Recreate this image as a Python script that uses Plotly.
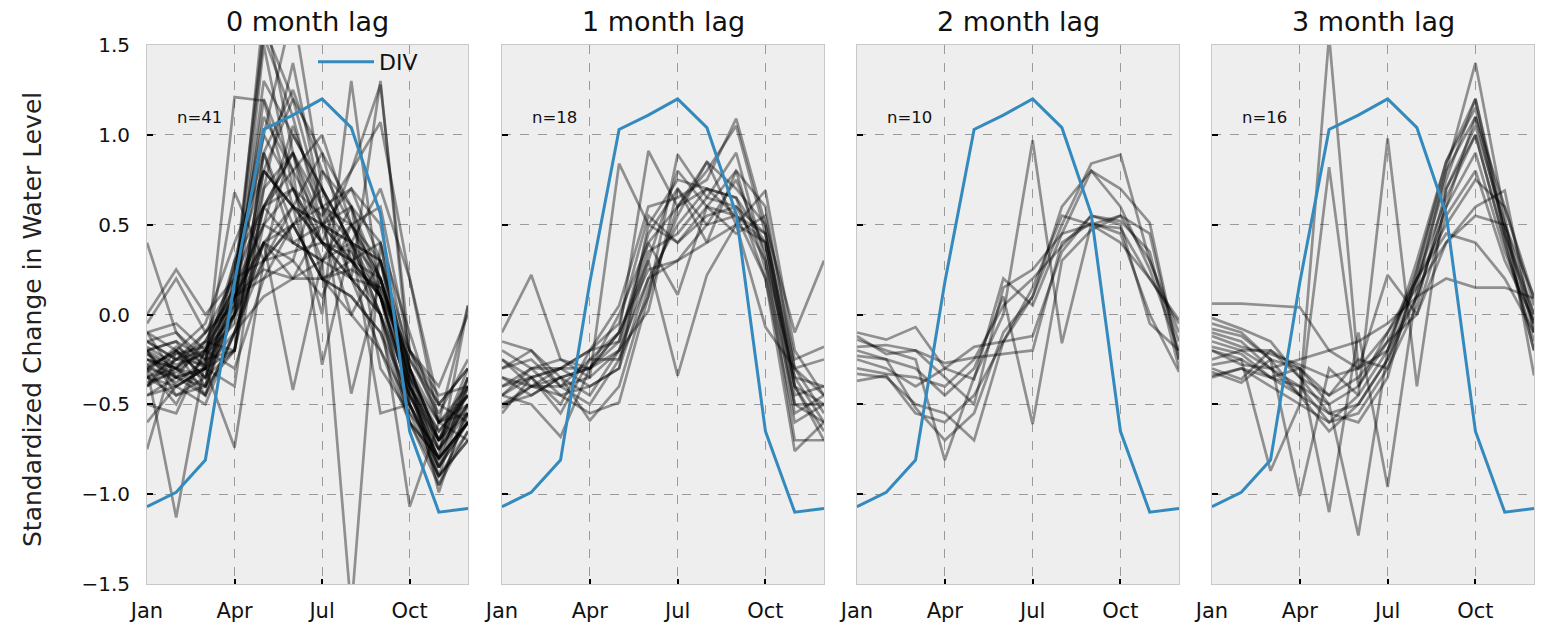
import plotly.graph_objects as go
from plotly.subplots import make_subplots

# ---------------- data ----------------
months = [1, 2, 3, 4, 5, 6, 7, 8, 9, 10, 11, 12]
month_tick_vals = [1, 4, 7, 10]
month_tick_text = ["Jan", "Apr", "Jul", "Oct"]
y_tick_vals = [-1.5, -1.0, -0.5, 0.0, 0.5, 1.0, 1.5]
y_tick_text = ["\u22121.5", "\u22121.0", "\u22120.5", "0.0", "0.5", "1.0", "1.5"]

panel_titles = ["0 month lag", "1 month lag", "2 month lag", "3 month lag"]
panel_counts = ["n=41", "n=18", "n=10", "n=16"]

div = [-1.07, -0.99, -0.81, 0.18, 1.03, 1.11, 1.20, 1.04, 0.56, -0.65, -1.10, -1.08]

lag0 = [
    [-0.25, -0.30, -0.20, 0.10, 1.70, 0.90, 0.50, 0.30, 0.10, -0.40, -0.75, -0.50],
    [-0.30, -0.20, -0.35, 0.20, 1.60, 1.20, 0.60, 0.40, 0.00, -0.50, -0.80, -0.60],
    [-0.15, -0.25, -0.10, 0.05, 1.00, 1.70, 0.70, 0.20, 0.15, -0.35, -0.90, -0.40],
    [-0.35, -0.40, -0.30, 1.21, 1.19, 0.60, 0.40, 0.30, 0.20, -0.30, -0.60, -0.45],
    [-0.20, -0.15, -0.25, 0.68, 0.30, 0.50, 0.20, 0.10, -0.10, -0.45, -0.70, -0.55],
    [0.40, -0.10, -0.30, -0.20, 0.80, 0.60, 0.00, 1.30, 0.10, -0.40, -0.85, -0.35],
    [-0.10, -0.05, -0.20, 0.00, 0.60, 0.40, 0.30, 0.20, 1.30, -0.30, -0.70, -0.40],
    [-0.20, -0.30, -0.15, 0.15, 0.50, 0.70, 0.40, 0.80, 1.28, -0.20, -0.50, -0.30],
    [-0.45, -0.35, -0.40, 0.30, 0.60, 0.70, 0.55, 0.80, 1.07, 0.20, -0.50, -0.60],
    [-0.75, -0.20, -0.45, -0.10, 0.40, 0.20, 0.30, -1.65, 0.40, -0.50, -0.90, -0.70],
    [-0.30, -1.13, -0.25, -0.20, 0.90, 0.50, 0.20, 0.10, -0.10, -0.60, -0.95, -0.65],
    [-0.20, -0.40, -0.30, -0.74, 0.30, 0.60, 0.40, 0.20, 0.00, -1.07, -0.60, -0.40],
    [-0.30, -0.20, -0.35, 0.10, 0.40, -0.42, 0.30, 0.50, 0.20, -0.40, -0.70, -0.50],
    [-0.25, -0.30, -0.10, 0.20, 1.10, 0.80, -0.28, 0.40, 0.10, -0.45, -0.80, -0.60],
    [-0.10, -0.35, -0.30, 0.00, 0.70, 0.90, 0.60, -0.44, 0.20, -0.30, -0.75, -0.55],
    [-0.40, -0.25, -0.20, 0.25, 0.80, 0.60, 0.50, 0.40, -0.55, -0.50, -0.85, -0.60],
    [-0.35, -0.45, -0.40, 0.05, 1.30, 1.00, 0.70, 0.40, 0.20, -0.35, -0.99, -0.50],
    [-0.15, -0.10, -0.25, 0.30, 0.90, 1.25, 0.80, 0.50, 0.10, -0.60, -0.80, -0.40],
    [-0.28, -0.22, -0.18, 0.10, 0.50, 1.05, 0.60, 0.50, 0.30, -0.20, -0.60, 0.05],
    [-0.22, -0.35, -0.30, -0.10, 0.30, 1.00, 0.70, 0.40, 0.00, -0.55, -0.90, -0.65],
    [-0.40, -0.30, -0.45, 0.20, 0.60, 0.90, 0.20, 0.30, 0.40, -0.40, -0.70, -0.35],
    [-0.05, 0.20, -0.10, 0.10, 0.25, 0.20, 0.20, 0.25, 0.15, -0.25, -0.50, -0.30],
    [0.00, 0.25, 0.00, 0.20, 0.30, 0.35, 0.40, 0.35, 0.10, -0.20, -0.40, 0.00],
    [-0.30, -0.50, -0.20, -0.30, 0.20, 0.50, 0.60, 0.70, 0.30, -0.50, -0.80, -0.60],
    [-0.20, -0.15, -0.40, 0.00, 0.40, 0.30, 0.80, 0.60, 0.40, -0.10, -0.60, -0.70],
    [-0.35, -0.25, -0.15, -0.20, 0.90, 0.40, 0.50, 0.70, 0.50, -0.30, -0.70, -0.45],
    [-0.45, -0.40, -0.30, -0.40, 0.70, 1.40, 0.60, 0.20, 0.00, -0.40, -0.95, -0.55],
    [-0.18, -0.28, -0.22, -0.05, 0.60, 0.80, 1.00, 0.50, 0.20, -0.35, -0.65, -0.45],
    [-0.32, -0.18, -0.28, 0.00, 1.50, 0.70, 0.40, 0.30, 0.10, -0.45, -0.75, -0.50],
    [-0.25, -0.35, -0.15, 0.15, 1.55, 1.10, 0.50, 0.00, -0.20, -0.50, -0.85, -0.60],
    [-0.40, -0.20, -0.30, 0.10, 0.20, 0.30, 0.10, 0.50, 0.60, -0.20, -0.45, -0.40],
    [-0.20, -0.45, -0.35, -0.20, 0.50, 0.40, 0.30, 0.40, 0.70, 0.20, -0.60, -0.55],
    [-0.60, -0.40, -0.50, -0.10, 0.10, 0.20, 0.50, 0.30, 0.00, -0.60, -0.80, -0.60],
    [-0.50, -0.55, -0.20, 0.00, 0.30, 0.50, 0.70, 0.40, 0.30, -0.30, -0.70, -0.30],
    [-0.10, -0.20, -0.05, 0.40, 0.80, 1.20, 0.90, 0.60, 0.20, -0.35, -0.60, -0.50],
    [-0.35, -0.30, -0.40, -0.20, 0.60, 0.90, 0.40, 0.20, -0.20, -0.60, -0.90, -0.70],
    [-0.28, -0.38, -0.25, 0.05, 1.20, 0.80, 0.50, 0.40, 0.30, -0.40, -0.65, -0.45],
    [-0.22, -0.30, -0.35, 0.00, 0.80, 0.60, 0.50, 0.60, -0.30, -0.55, -0.75, -0.35],
    [-0.38, -0.32, -0.20, 0.10, 0.40, 0.60, 0.90, 0.30, 0.10, -0.25, -0.55, -0.25],
    [-0.15, -0.25, -0.28, 0.25, 1.00, 0.70, 0.30, 0.60, 0.10, -0.45, -0.80, 0.05],
    [-0.30, -0.35, -0.45, -0.10, 0.40, 0.50, 0.20, 0.00, 0.30, -0.30, -0.85, -0.55],
]

lag1 = [
    [-0.10, 0.22, -0.25, -0.30, 0.00, 0.40, 0.60, 0.85, 0.70, 0.50, -0.10, 0.30],
    [-0.30, -0.20, -0.40, -0.35, 0.84, 0.50, 0.75, 0.70, 0.55, 0.40, -0.40, -0.50],
    [-0.45, -0.35, -0.55, -0.25, -0.10, 0.91, 0.60, 0.80, 1.05, 0.45, -0.35, -0.60],
    [-0.40, -0.30, -0.45, -0.55, -0.49, 0.10, 0.89, 0.65, 0.60, 0.30, -0.70, -0.70],
    [-0.50, -0.40, -0.30, -0.30, -0.10, 0.30, -0.34, 0.22, 0.50, 0.69, -0.20, -0.45],
    [-0.35, -0.45, -0.35, -0.30, -0.20, 0.02, 0.70, 0.40, 0.80, 0.60, -0.30, -0.55],
    [-0.25, -0.35, -0.50, -0.20, -0.15, 0.40, 0.11, 0.60, 0.55, 0.20, -0.76, -0.60],
    [-0.52, -0.40, -0.35, -0.45, -0.20, 0.20, 0.50, 0.70, 0.65, 0.40, -0.45, -0.40],
    [-0.20, -0.30, -0.30, -0.40, -0.30, 0.50, 0.40, 0.55, 0.60, 0.45, -0.30, -0.25],
    [-0.45, -0.50, -0.68, -0.30, -0.10, 0.25, 0.30, 0.50, 0.75, 0.35, -0.55, -0.45],
    [-0.40, -0.35, -0.30, -0.20, 0.05, 0.60, 0.65, 0.75, 1.09, 0.50, -0.40, -0.65],
    [-0.30, -0.25, -0.40, -0.50, -0.25, 0.30, 0.80, 0.60, 0.45, 0.55, -0.25, -0.18],
    [-0.15, -0.20, -0.35, -0.59, -0.40, 0.15, 0.55, 0.85, 0.50, 0.40, -0.50, -0.50],
    [-0.45, -0.30, -0.25, -0.35, -0.20, 0.35, 0.45, 0.65, 0.90, 0.30, -0.35, -0.40],
    [-0.35, -0.40, -0.40, -0.25, -0.25, 0.10, 0.60, 0.70, 0.65, 0.20, -0.60, -0.50],
    [-0.50, -0.45, -0.35, -0.30, -0.15, 0.45, 0.70, 0.50, 0.55, 0.45, -0.40, -0.70],
    [-0.25, -0.40, -0.45, -0.40, -0.30, 0.20, 0.30, 0.40, 0.50, -0.07, -0.30, -0.45],
    [-0.55, -0.35, -0.30, -0.20, -0.05, 0.55, 0.40, 0.60, 0.80, 0.25, -0.50, -0.60],
]

lag2 = [
    [-0.33, -0.35, -0.50, -0.55, -0.70, -0.15, 0.10, 0.50, 0.84, 0.89, 0.30, -0.10],
    [-0.10, -0.14, -0.07, -0.30, -0.36, 0.20, 0.05, 0.45, 0.80, 0.60, 0.25, -0.20],
    [-0.14, -0.20, -0.25, -0.81, -0.35, 0.00, 0.97, -0.16, 0.50, 0.55, 0.45, -0.25],
    [-0.18, -0.17, -0.20, -0.27, -0.24, -0.22, -0.20, 0.40, 0.51, 0.45, 0.00, -0.32],
    [-0.23, -0.25, -0.30, -0.45, -0.30, 0.10, -0.61, 0.30, 0.47, 0.55, 0.30, -0.15],
    [-0.37, -0.34, -0.55, -0.60, -0.45, -0.15, 0.15, 0.55, 0.50, 0.40, 0.20, -0.05],
    [-0.30, -0.33, -0.35, -0.40, -0.25, 0.05, 0.20, 0.38, 0.55, 0.50, -0.05, -0.20],
    [-0.20, -0.25, -0.52, -0.70, -0.55, -0.10, 0.10, 0.60, 0.80, 0.70, 0.51, -0.25],
    [-0.12, -0.22, -0.20, -0.35, -0.50, 0.15, 0.25, 0.45, 0.50, 0.48, 0.20, -0.03],
    [-0.25, -0.30, -0.40, -0.30, -0.18, -0.15, -0.12, 0.35, 0.55, 0.52, 0.35, -0.30],
]

lag3 = [
    [-0.10, -0.15, -0.30, -0.45, 1.55, -0.30, -0.20, 0.10, 0.60, 1.10, 0.60, 0.05],
    [-0.20, -0.25, -0.87, -0.50, 0.82, -0.40, -0.10, 0.20, 0.75, 1.20, 0.50, -0.10],
    [-0.05, -0.10, -0.25, -1.01, -0.30, -0.45, 0.98, -0.40, 0.70, 1.00, 0.40, -0.20],
    [-0.30, -0.36, -0.20, -0.30, -1.10, -0.10, -0.96, 0.15, 0.80, 1.40, 0.55, -0.34],
    [-0.34, -0.30, -0.35, -0.40, -0.50, -1.23, -0.20, 0.25, 0.85, 1.15, 0.45, 0.00],
    [0.06, 0.06, 0.05, 0.04, -0.20, -0.30, 0.22, 0.00, 0.40, 0.55, 0.50, 0.10],
    [-0.15, -0.20, -0.20, -0.35, -0.55, -0.50, -0.25, 0.10, 0.60, 0.90, 0.35, -0.05],
    [-0.25, -0.20, -0.30, -0.40, -0.60, -0.55, -0.30, 0.05, 0.70, 1.05, 0.50, 0.00],
    [-0.08, -0.12, -0.25, -0.30, -0.45, -0.35, -0.15, 0.20, 0.50, 0.75, 0.60, 0.09],
    [-0.35, -0.30, -0.40, -0.50, -0.60, -0.45, -0.20, 0.30, 0.85, 1.20, 0.45, -0.05],
    [-0.12, -0.18, -0.22, -0.28, -0.35, -0.30, -0.10, 0.15, 0.40, 0.60, 0.69, -0.10],
    [-0.28, -0.25, -0.35, -0.45, -0.65, -0.50, -0.25, 0.20, 0.65, 1.00, 0.40, -0.15],
    [-0.20, -0.28, -0.30, -0.25, -0.20, -0.15, -0.05, 0.10, 0.20, 0.15, 0.15, 0.09],
    [-0.32, -0.38, -0.25, -0.45, -0.55, -0.60, -0.35, 0.25, 0.80, 1.10, 0.45, -0.20],
    [-0.18, -0.22, -0.35, -0.30, -0.50, -0.40, -0.15, 0.00, 0.55, 0.80, 0.30, -0.03],
    [-0.02, -0.08, -0.15, -0.35, -0.45, -0.25, -0.30, 0.20, 0.45, 0.40, 0.20, -0.10],
]

panels = [lag0, lag1, lag2, lag3]

# ---------------- style ----------------
W, H = 1542, 626
FONT = "DejaVu Sans"
BLUE = "#348ABD"
GRAY_LINE = "rgba(0,0,0,0.4)"
x_px = [(147, 468), (502, 824), (857, 1179), (1212, 1534)]
y_dom = [(626 - 584) / H, (626 - 45) / H]

fig = make_subplots(rows=1, cols=4, shared_yaxes=True)

for i, series in enumerate(panels):
    col = i + 1
    for s in series:
        fig.add_trace(
            go.Scatter(x=months, y=s, mode="lines",
                       line=dict(color=GRAY_LINE, width=2.7),
                       showlegend=False, hoverinfo="skip"),
            row=1, col=col)
    fig.add_trace(
        go.Scatter(x=months, y=div, mode="lines", name="DIV",
                   line=dict(color=BLUE, width=3),
                   showlegend=(i == 0)),
        row=1, col=col)

for i in range(4):
    xa = "xaxis" if i == 0 else f"xaxis{i+1}"
    ya = "yaxis" if i == 0 else f"yaxis{i+1}"
    x0, x1 = x_px[i]
    fig.layout[xa].update(
        domain=[x0 / W, x1 / W], range=[1, 12], automargin=False,
        tickmode="array", tickvals=month_tick_vals, ticktext=month_tick_text,
        showgrid=True, gridcolor="#9a9a9a", griddash="dash", gridwidth=1,
        zeroline=False, showline=True, linecolor="#c8c8c8", linewidth=1, mirror=True,
        ticks="inside", ticklen=5, tickwidth=1.5, tickcolor="#000000",
        ticklabelstandoff=8,
        tickfont=dict(family=FONT, size=21, color="#111111"),
    )
    fig.layout[ya].update(
        domain=list(y_dom), range=[-1.5, 1.5], automargin=False,
        tickmode="array", tickvals=y_tick_vals, ticktext=y_tick_text,
        showgrid=True, gridcolor="#9a9a9a", griddash="dash", gridwidth=1,
        zeroline=False, showline=True, linecolor="#c8c8c8", linewidth=1, mirror=True,
        ticks="inside", ticklen=6, tickwidth=1.5, tickcolor="#000000",
        showticklabels=(i == 0), ticklabelstandoff=12,
        tickfont=dict(family=FONT, size=20, color="#111111"),
    )
    # panel title
    fig.add_annotation(text=panel_titles[i], xref=f"x{'' if i == 0 else i+1} domain",
                       yref="paper", x=0.5, y=y_dom[1], yanchor="bottom", yshift=6,
                       showarrow=False, font=dict(family=FONT, size=27, color="#111111"))
    # count label
    fig.add_annotation(text=panel_counts[i], xref=f"x{'' if i == 0 else i+1} domain",
                       yref=f"y{'' if i == 0 else i+1} domain", x=0.087, y=0.865,
                       xanchor="left", yanchor="middle", showarrow=False,
                       font=dict(family=FONT, size=16.5, color="#111111"))

fig.add_annotation(text="Standardized Change in Water Level", xref="paper", yref="paper",
                   x=32 / W, y=(626 - 320) / H, xanchor="center", yanchor="middle",
                   textangle=-90, showarrow=False,
                   font=dict(family=FONT, size=25, color="#222222"))

fig.update_layout(
    width=W, height=H,
    margin=dict(l=0, r=0, t=0, b=0, autoexpand=False),
    paper_bgcolor="white", plot_bgcolor="#eeeeee",
    font=dict(family=FONT),
    legend=dict(x=313 / W, y=(626 - 41) / H, xanchor="left", yanchor="top",
                itemwidth=56, bgcolor="rgba(0,0,0,0)",
                font=dict(family=FONT, size=22, color="#111111")),
)

fig.write_html("out.html")
